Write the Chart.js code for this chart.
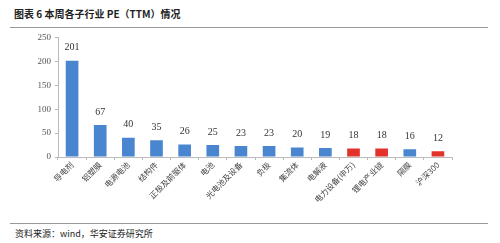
<!DOCTYPE html>
<html>
<head>
<meta charset="utf-8">
<script src="https://cdn.jsdelivr.net/npm/chart.js@4"></script>
<style>
  body { margin: 0; background: #fff; width: 500px; height: 243px; position: relative; overflow: hidden; font-family: "Noto Sans CJK SC", sans-serif; }
  #title { position: absolute; left: 14px; top: 6px; font-size: 10px; font-weight: bold; color: #222; }
  .rule { position: absolute; left: 10px; width: 478px; height: 1px; background: #999; }
  #source { position: absolute; left: 15px; top: 227px; font-size: 9px; color: #222; }
  #wrap { position: absolute; left: 0; top: 28px; width: 500px; height: 195px; }
</style>
</head>
<body>
<div id="title">图表 6 本周各子行业 PE（TTM）情况</div>
<div class="rule" style="top:27px"></div>
<div id="wrap"><canvas id="chart"></canvas></div>
<div class="rule" style="top:223px"></div>
<div id="source">资料来源：wind，华安证券研究所</div>
<script>
// 类别 / PE(TTM)
const categories = ["导电剂", "铝塑膜", "电源电池", "结构件", "正极及前驱体", "电池", "光电池及设备",
  "负极", "集流体", "电解液", "电力设备(申万)", "锂电产业链", "隔膜", "沪深300"];
const peValues = [201, 67, 40, 35, 26, 25, 23, 23, 20, 19, 18, 18, 16, 12];
const highlighted = ["电力设备(申万)", "锂电产业链", "沪深300"];
const yTicks = [0, 50, 100, 150, 200, 250];

const BLUE = "#4a86cf";
const RED = "#e3322b";

// 柱顶数值
const valueLabels = {
  id: "valueLabels",
  afterDatasetsDraw(chart) {
    const ctx = chart.ctx;
    const meta = chart.getDatasetMeta(0);
    ctx.save();
    ctx.font = "10px 'Liberation Serif'";
    ctx.fillStyle = "#333";
    ctx.textAlign = "center";
    ctx.textBaseline = "bottom";
    meta.data.forEach((bar, i) => {
      ctx.fillText(peValues[i], bar.x, bar.y - 8);
    });
    ctx.restore();
  }
};

new Chart(document.getElementById("chart"), {
  type: "bar",
  data: {
    labels: categories,
    datasets: [{
      data: peValues,
      backgroundColor: categories.map(c => highlighted.includes(c) ? RED : BLUE),
      barPercentage: 0.45,
      categoryPercentage: 1
    }]
  },
  options: {
    responsive: true,
    maintainAspectRatio: false,
    animation: false,
    layout: { padding: { top: 5, right: 48, left: 0, bottom: 0 } },
    plugins: { legend: { display: false }, tooltip: { enabled: false } },
    scales: {
      x: {
        afterFit(scale) { scale.height = 66; },
        grid: { drawOnChartArea: false, drawTicks: true, tickLength: 3, color: "#bbb" },
        border: { color: "#bbb" },
        ticks: {
          minRotation: 45, maxRotation: 45, autoSkip: false, padding: 0,
          color: "#444", font: { size: 8, family: "'Noto Sans CJK SC'" }
        }
      },
      y: {
        min: 0, max: 250,
        afterFit(scale) { scale.width = 58; },
        afterBuildTicks(scale) { scale.ticks = yTicks.map(v => ({ value: v })); },
        grid: { drawOnChartArea: false, drawTicks: true, tickLength: 3, color: "#bbb" },
        border: { color: "#bbb" },
        ticks: { color: "#555", padding: 4, font: { size: 9, family: "'Liberation Serif'" } }
      }
    }
  },
  plugins: [valueLabels]
});
</script>
</body>
</html>
